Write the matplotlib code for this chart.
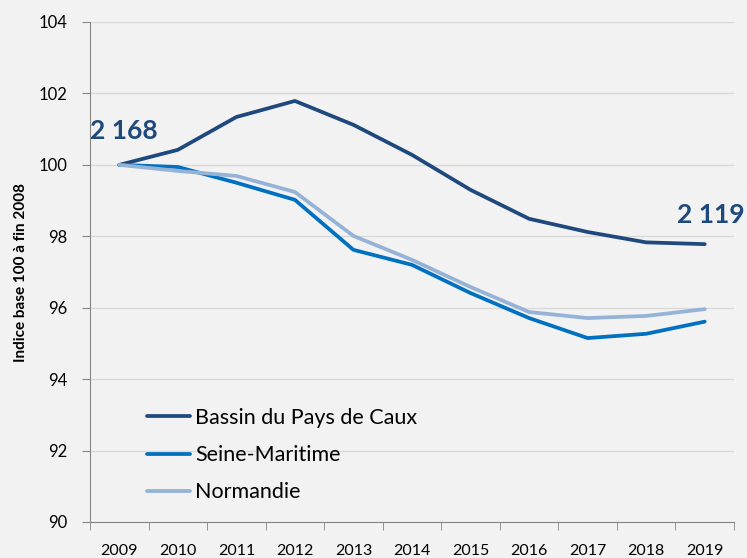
import matplotlib.pyplot as plt
import numpy as np

years = ['2009', '2010', '2011', '2012', '2013', '2014', '2015', '2016', '2017', '2018', '2019']
bassin = [100.0, 100.42, 101.34, 101.79, 101.12, 100.28, 99.30, 98.49, 98.12, 97.83, 97.78]
seine = [100.0, 99.94, 99.50, 99.02, 97.62, 97.20, 96.41, 95.71, 95.15, 95.27, 95.61]
normandie = [100.0, 99.83, 99.69, 99.24, 98.01, 97.34, 96.58, 95.88, 95.71, 95.77, 95.96]
series_names = ['Bassin du Pays de Caux', 'Seine-Maritime', 'Normandie']
colors = ['#1f497d', '#0070c0', '#95b3d7']
start_label = '2 168'
end_label = '2 119'

plt.rcParams['font.family'] = ['Lato', 'DejaVu Sans']
bg = '#f2f2f2'

fig = plt.figure(figsize=(7.47, 5.58), dpi=100, facecolor=bg)
ax = fig.add_axes([90 / 747, 1 - 522 / 558, (734 - 90) / 747, 500 / 558])
ax.set_facecolor(bg)

x = np.arange(len(years))
for vals, name, c in zip([bassin, seine, normandie], series_names, colors):
    ax.plot(x, vals, color=c, lw=2.7, label=name, solid_capstyle='round', solid_joinstyle='round')

ax.set_xlim(-0.5, len(years) - 0.5)
ax.set_ylim(90, 104)
ax.set_yticks(np.arange(90, 105, 2))
ax.set_xticks(x)
ax.set_xticklabels(years)
ax.set_xticks(np.arange(-0.5, len(years), 1), minor=True)
ax.tick_params(axis='x', which='major', length=0, pad=16, labelsize=11.5)
ax.tick_params(axis='x', which='minor', length=6, direction='out', color='#868686')
ax.tick_params(axis='y', length=6, direction='out', color='#868686', labelsize=12, pad=10)
ax.grid(axis='y', color='#d9d9d9', lw=1)
ax.set_axisbelow(True)
for s in ['top', 'right']:
    ax.spines[s].set_visible(False)
for s in ['left', 'bottom']:
    ax.spines[s].set_color('#868686')

ax.set_ylabel('Indice base 100 à fin 2008', fontsize=11, fontweight='bold', labelpad=8)

ax.text(x[0] - 0.5, bassin[0] + 0.95, start_label, fontsize=19, fontweight='bold',
        color='#1f497d', ha='left', va='center')
ax.text(x[-1] + 0.68, bassin[-1] + 0.82, end_label, fontsize=19, fontweight='bold',
        color='#1f497d', ha='right', va='center')

ax.legend(loc='lower left', bbox_to_anchor=(0.075, 0.022), frameon=False, fontsize=15.5,
          handlelength=2.0, handletextpad=0.25, labelspacing=0.8, borderaxespad=0)

fig.savefig('out.png', dpi=100, facecolor=bg)
